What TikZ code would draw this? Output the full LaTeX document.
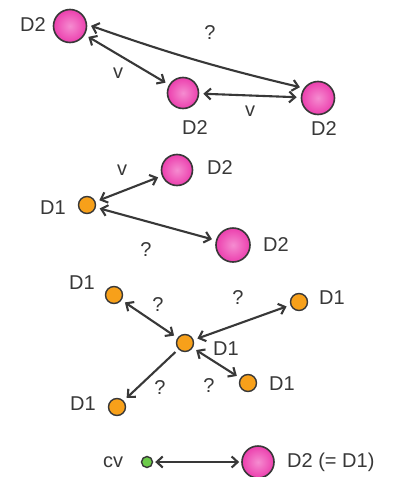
\documentclass[tikz,border=0pt]{standalone}
\usepackage{fontspec}
\setmainfont{Liberation Sans}
\usetikzlibrary{arrows.meta}
\definecolor{pinkfill}{HTML}{EC3FAE}
\definecolor{pinklite}{HTML}{F58CD0}
\definecolor{orangefill}{HTML}{F7A01A}
\definecolor{greenfill}{HTML}{6CCB4A}
\definecolor{ink}{HTML}{383838}
\begin{document}
\begin{tikzpicture}[x=1pt,y=-1pt,
  big/.style={circle,draw=ink,line width=1.6pt,inner sep=0pt,minimum size=33pt,
    inner color=pinklite,outer color=pinkfill},
  small/.style={circle,draw=ink,line width=1.4pt,inner sep=0pt,minimum size=17pt,fill=orangefill},
  tiny/.style={circle,draw=ink,line width=1.4pt,inner sep=0pt,minimum size=11pt,fill=greenfill},
  lbl/.style={text=ink,font=\fontsize{20}{20}\selectfont,inner sep=1pt},
  link/.style={draw=ink,line width=2.1pt,{Straight Barb[length=6pt,width=11pt]}-{Straight Barb[length=6pt,width=11pt]},
    shorten <=4pt,shorten >=4pt},
  onelink/.style={draw=ink,line width=2.1pt,-{Straight Barb[length=6pt,width=11pt]},
    shorten <=4pt,shorten >=4pt}]
\useasboundingbox[fill=white] (0,0) rectangle (404,477);

% --- three D2 particles ---
\node[big] (a1) at (70,26) {};
\node[big,minimum size=31pt] (a2) at (183,93) {};
\node[big] (a3) at (318,98) {};
\node[lbl] (la1) at (33,25) {D2};
\node[lbl] (la2) at (195,128) {D2};
\node[lbl] (la3) at (324,129) {D2};
\draw[link] (a1.5) to[bend right=3] (a3.145);
\draw[link] (a1) -- (a2);
\draw[link] (a2) -- (a3);
\node[lbl] (qa) at (210,33) {?};
\node[lbl] (va1) at (118,73) {v};
\node[lbl] (va2) at (250,111) {v};

% --- D1 with two D2 ---
\node[small] (b0) at (87,205) {};
\node[big,minimum size=31pt] (b1) at (177,170) {};
\node[big,minimum size=34pt] (b2) at (233,245) {};
\node[lbl] (lb0) at (53,208) {D1};
\node[lbl] (lb1) at (220,168) {D2};
\node[lbl] (lb2) at (276,245) {D2};
\draw[link] (b0) -- (b1);
\draw[link] (b0) -- (b2);
\node[lbl] (vb) at (122,170) {v};
\node[lbl] (qb) at (146,250) {?};

% --- five D1 ---
\node[small] (c0) at (185,343) {};
\node[small] (c1) at (114,295) {};
\node[small] (c2) at (299,302) {};
\node[small] (c3) at (117,407) {};
\node[small] (c4) at (248,383) {};
\node[lbl] (lc0) at (226,349) {D1};
\node[lbl] (lc1) at (82,283) {D1};
\node[lbl] (lc2) at (332,298) {D1};
\node[lbl] (lc3) at (83,404) {D1};
\node[lbl] (lc4) at (282,384) {D1};
\draw[link] (c1) -- (c0);
\draw[link] (c2) -- (c0);
\draw[onelink] (c0) -- (c3);
\draw[link] (c0) -- (c4);
\node[lbl] (qc1) at (158,305) {?};
\node[lbl] (qc2) at (238,298) {?};
\node[lbl] (qc3) at (160,388) {?};
\node[lbl] (qc4) at (209,386) {?};

% --- cv and D2 ---
\node[tiny] (g) at (147,462) {};
\node[big,minimum size=32pt] (d) at (258,462) {};
\node[lbl] (lg) at (113,462) {cv};
\node[lbl,anchor=west] (ld) at (286,462) {D2 (= D1)};
\draw[link,shorten <=2pt,shorten >=2pt] (g) -- (d);
\end{tikzpicture}
\end{document}
